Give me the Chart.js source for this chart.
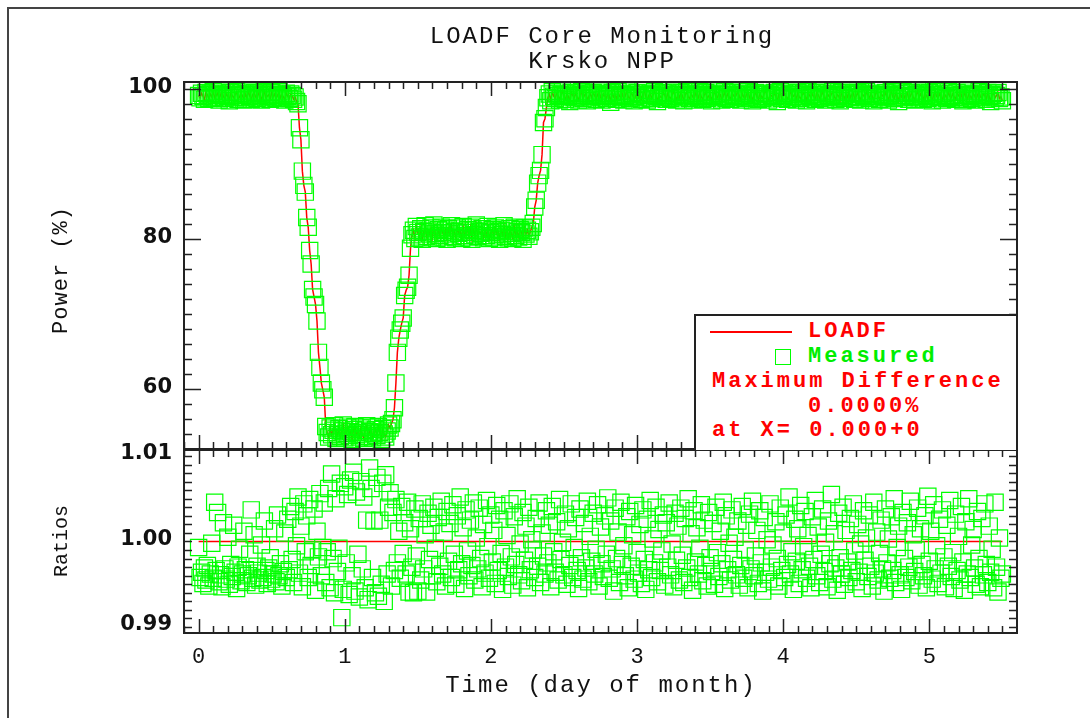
<!DOCTYPE html>
<html>
<head>
<meta charset="utf-8">
<script src="https://cdn.jsdelivr.net/npm/chart.js@4.4.1/dist/chart.umd.min.js"></script>
<style>
  body { margin: 0; width: 1090px; height: 718px; overflow: hidden; position: relative; background: #fff; }
  canvas { position: absolute; left: 0; top: 0; }
  .txt { position: absolute; white-space: pre; font-family: 'Liberation Mono', monospace; font-size: 24px; line-height: 24px; letter-spacing: 2px; color: #111; }
  .leg { font-size: 22px; line-height: 22px; letter-spacing: 3px; font-weight: bold; }
  .red { color: #ff0000; }
  .green { color: #00ee00; }
  .vert { transform: translate(-50%, -50%) rotate(-90deg); }
  #page-frame { position: absolute; left: 7px; top: 7px; right: -10px; bottom: -10px; border-left: 2px solid #444; border-top: 2px solid #444; }
  #legend-box { position: absolute; left: 694px; top: 314px; width: 320px; height: 134px; background: #fff; border-left: 2px solid #222; border-top: 2px solid #222; }
</style>
</head>
<body>
<div id="page-frame"></div>
<canvas id="power-chart" width="1090" height="718"></canvas>
<canvas id="ratio-chart" width="1090" height="718"></canvas>

<div class="txt" style="left:0; width:1204px; top:25px; text-align:center;">LOADF Core Monitoring</div>
<div class="txt" style="left:0; width:1204px; top:50px; text-align:center;">Krsko NPP</div>
<div class="txt vert" style="left:62px; top:270px; font-size:22px; letter-spacing:1px;">Power (%)</div>
<div class="txt vert" style="left:62px; top:541px; font-size:20px; letter-spacing:0px;">Ratios</div>
<div class="txt" style="left:0; width:1202px; top:674px; text-align:center;">Time (day of month)</div>

<div id="legend-box"></div>
<div style="position:absolute; left:710px; top:331px; width:82px; height:2px; background:#ff0000;"></div>
<div class="txt leg red" style="left:808px; top:321px;">LOADF</div>
<div style="position:absolute; left:775px; top:349px; width:14px; height:14px; border:1.5px solid #00ff00;"></div>
<div class="txt leg green" style="left:808px; top:346px;">Measured</div>
<div class="txt leg red" style="left:712px; top:371px;">Maximum Difference</div>
<div class="txt leg red" style="left:808px; top:396px;">0.0000%</div>
<div class="txt leg red" style="left:712px; top:420px;">at X= 0.000+0</div>

<script>
// monitoring samples, one every 0.01 day starting at day 0
const sampleStart = 0;
const sampleStep = 0.01;

// measured power (%), in time order
const fullPowerBefore = [
  99.2, 98.9, 99.5, 99.1, 98.7, 99.6, 99.3, 98.8, 99.4, 99.0,
  99.7, 98.9, 99.2, 99.5, 98.6, 99.3, 99.8, 99.0, 98.8, 99.4,
  99.1, 98.5, 99.6, 99.2, 98.9, 99.3, 99.7, 98.7, 99.0, 99.5,
  99.2, 98.6, 99.4, 98.9, 99.8, 99.1, 98.7, 99.3, 99.6, 99.0,
  98.8, 99.5, 99.2, 98.6, 99.4, 99.7, 98.9, 99.1, 99.3, 98.7,
  99.6, 99.0, 99.4, 98.8, 99.2, 99.7, 98.9, 99.3, 99.0, 98.6,
  99.5, 99.1, 98.8, 99.4, 99.2, 98.7, 99.0, 98.4
];
const rampDown = [
  98.1, 94.9, 93.3, 89.1, 87.2, 86.3, 82.9, 81.6, 78.5, 76.7,
  73.3, 72.3, 71.3, 69.1, 64.9, 62.9, 60.8, 59.9, 58.9
];
const lowPower = [
  55.0, 54.2, 53.6, 54.8, 53.9, 54.5, 55.1, 53.4, 54.0, 54.7,
  53.7, 54.4, 55.2, 53.5, 54.1, 54.9, 53.8, 54.3, 53.3, 54.6,
  55.0, 53.9, 54.2, 53.6, 54.8, 54.0, 53.4, 54.5, 55.1, 53.7,
  54.3, 54.9, 53.5, 54.1, 54.6, 53.8, 55.0, 54.2, 53.3, 54.7,
  54.0, 53.6, 54.4, 55.2, 54.8, 55.4, 55.9
];
const rampUpFirst = [57.5, 60.8, 64.9, 66.8, 67.9, 68.8, 69.5, 72.5, 73.2, 73.6, 75.2, 78.8];
const midPower = [
  80.6, 81.2, 80.1, 81.7, 80.9, 80.3, 81.4, 80.0, 81.0, 81.8,
  80.4, 81.1, 80.7, 81.5, 80.2, 81.9, 80.8, 80.1, 81.3, 80.5,
  81.6, 80.9, 80.3, 81.2, 80.0, 81.4, 80.7, 81.8, 80.4, 81.0,
  80.2, 81.5, 80.8, 81.1, 80.1, 81.7, 80.5, 80.9, 81.3, 80.3,
  81.6, 80.0, 81.2, 80.6, 81.9, 80.4, 81.0, 80.8, 81.4, 80.2,
  81.1, 80.5, 81.7, 80.1, 80.9, 81.3, 80.3, 81.5, 80.7, 81.0,
  80.0, 81.2, 80.6, 81.8, 80.4, 81.1, 80.2, 81.4, 80.8, 80.1,
  81.6, 80.5, 81.0, 80.3, 81.3, 80.9, 80.0, 81.5, 80.7, 81.2,
  80.4, 81.0, 81.6
];
const rampUpSecond = [82.1, 84.3, 85.2, 87.5, 88.5, 89.2, 91.3, 95.6, 96.1, 97.6];
const fullPowerAfter = [
  98.9, 99.4, 98.5, 99.7, 99.1, 98.8, 99.5, 99.2, 98.6, 99.3,
  99.8, 99.0, 98.7, 99.4, 99.1, 98.4, 99.6, 99.2, 98.9, 99.5,
  99.0, 98.6, 99.3, 99.7, 98.8, 99.2, 99.5, 98.5, 99.1, 99.4,
  98.9, 99.6, 99.2, 98.7, 99.3, 99.8, 99.0, 98.6, 99.4, 99.1,
  98.8, 99.5, 99.2, 98.3, 99.6, 99.0, 99.3, 98.7, 99.7, 99.1,
  98.9, 99.4, 98.6, 99.2, 99.8, 99.0, 98.8, 99.5, 99.3, 98.5,
  99.1, 99.6, 98.9, 99.3, 98.7, 99.4, 99.9, 99.0, 98.6, 99.2,
  99.5, 98.8, 99.3, 99.7, 99.1, 98.4, 99.4, 99.0, 98.9, 99.6,
  99.2, 98.7, 99.5, 99.0, 98.8, 99.3, 99.8, 99.1, 98.6, 99.4,
  98.9, 99.6, 99.2, 98.5, 99.3, 99.7, 99.0, 98.8, 99.4, 99.1,
  98.6, 99.5, 99.2, 98.9, 99.7, 99.0, 98.7, 99.3, 99.6, 98.8,
  99.1, 99.4, 98.5, 99.2, 99.8, 99.0, 98.9, 99.5, 99.3, 98.6,
  99.1, 99.7, 98.8, 99.4, 99.0, 98.7, 99.6, 99.2, 98.9, 99.3,
  99.8, 99.1, 98.6, 99.5, 99.0, 98.8, 99.4, 99.7, 98.9, 99.2,
  98.5, 99.3, 99.6, 99.0, 98.7, 99.4, 99.1, 98.8, 99.5, 99.9,
  99.0, 98.6, 99.3, 99.2, 98.9, 99.6, 99.1, 98.4, 99.4, 99.7,
  98.8, 99.2, 99.5, 99.0, 98.7, 99.3, 99.8, 98.9, 99.1, 99.4,
  98.6, 99.6, 99.0, 98.8, 99.3, 99.5, 99.1, 98.5, 99.7, 99.2,
  98.9, 99.4, 99.0, 98.7, 99.6, 99.3, 98.8, 99.1, 99.8, 99.0,
  98.6, 99.5, 99.2, 98.9, 99.4, 99.7, 99.0, 98.7, 99.3, 99.1,
  98.5, 99.6, 99.2, 98.8, 99.4, 99.0, 99.8, 98.9, 99.3, 99.5,
  98.7, 99.1, 99.6, 99.0, 98.6, 99.4, 99.2, 98.9, 99.7, 99.3,
  98.8, 99.5, 99.1, 98.5, 99.3, 99.9, 99.0, 98.7, 99.4, 99.2,
  98.9, 99.6, 99.1, 98.6, 99.3, 99.7, 99.0, 98.8, 99.5, 99.2,
  98.4, 99.4, 99.0, 99.7, 98.9, 99.2, 99.5, 98.7, 99.1, 99.6,
  99.0, 98.6, 99.3, 99.8, 98.9, 99.4, 99.1, 98.7, 99.5, 99.2,
  98.8, 99.6, 99.0, 98.5, 99.3, 99.7, 99.1, 98.9, 99.4, 99.0,
  98.6, 99.5, 99.2, 98.8, 99.7, 99.1, 98.9, 99.4, 99.0, 98.7,
  99.6, 99.2, 98.9, 99.3, 98.5, 99.8, 99.0, 98.7, 99.4, 99.1,
  98.8, 99.5, 99.2, 98.6, 99.3, 99.7, 99.0, 98.9, 99.4, 99.2,
  98.7, 99.6, 99.1, 98.4, 99.3, 99.5, 98.9, 99.2, 99.6, 98.8,
  99.0, 98.5
];

// measured / LOADF ratios, same samples
const ratiosFullPower = [
  0.9993, 0.9958, 0.9964, 0.9951, 0.9969, 0.9955, 0.9972, 0.9948, 0.9962, 0.9998,
  0.9957, 1.0046, 0.9966, 1.0034, 0.9953, 0.9961, 0.9947, 1.0022, 0.9968, 0.9956,
  1.0005, 0.9950, 0.9973, 0.9959, 1.0019, 0.9964, 0.9945, 0.9970, 0.9991, 0.9954,
  0.9962, 1.0012, 0.9967, 0.9952, 0.9960, 0.9985, 1.0037, 0.9957, 1.0008, 0.9949,
  0.9971, 0.9963, 0.9955, 0.9996, 0.9958, 1.0024, 0.9966, 0.9951, 0.9969, 0.9981,
  0.9956, 0.9962, 1.0015, 0.9953, 1.0031, 0.9960, 0.9974, 0.9948, 0.9965, 1.0010
];
const ratiosRampDown = [
  0.9958, 1.0026, 0.9967, 1.0041, 0.9979, 0.9952, 1.0035, 0.9995, 1.0052, 0.9963,
  1.0018, 0.9947, 1.0044, 0.9988, 1.0030, 0.9958, 1.0049, 0.9972, 0.9990, 1.0038,
  0.9943, 1.0012, 0.9982, 1.0056, 0.9960
];
const ratiosLowPower = [
  0.9993, 1.0045, 0.9952, 0.9988, 1.0062, 0.9946, 1.0079, 0.9980, 0.9940, 1.0050,
  0.9965, 0.9992, 1.0068, 0.9911, 0.9944, 1.0064, 0.9975, 1.0055, 0.9938, 1.0072,
  0.9960, 1.0081, 0.9942, 1.0058, 0.9985, 0.9935, 1.0070, 0.9968, 1.0052, 0.9946,
  1.0025, 0.9932, 1.0086, 1.0062, 0.9958, 1.0024, 0.9940, 1.0075, 0.9936, 1.0025,
  0.9950, 1.0068, 0.9930, 1.0078, 0.9962, 1.0040
];
const ratiosLater = [
  1.0057, 0.9948, 1.0034, 0.9966, 1.0049, 0.9975, 1.0012, 0.9957, 1.0041, 0.9986,
  1.0022, 0.9962, 1.0046, 0.9941, 1.0015, 0.9970, 0.9940, 1.0038, 0.9983, 0.9942,
  1.0027, 0.9955, 1.0044, 0.9968, 1.0008, 0.9941, 1.0033, 0.9979, 1.0019, 0.9960,
  1.0040, 0.9992, 0.9953, 1.0028, 0.9971, 1.0047, 0.9962, 1.0011, 0.9948, 1.0035,
  0.9977, 1.0021, 0.9958, 1.0043, 0.9985, 0.9950, 1.0030, 0.9967, 1.0052, 0.9974,
  1.0016, 0.9945, 1.0037, 0.9989, 0.9960, 1.0025, 0.9972, 1.0045, 0.9955, 1.0004,
  0.9968, 1.0039, 0.9980, 0.9947, 1.0020, 0.9963, 1.0048, 0.9994, 0.9957, 1.0031,
  0.9976, 1.0013, 0.9951, 1.0042, 0.9966, 1.0026, 0.9986, 0.9944, 1.0036, 0.9970,
  1.0007, 0.9959, 1.0044, 0.9982, 0.9949, 1.0029, 0.9973, 1.0050, 0.9961, 0.9997,
  0.9954, 1.0034, 0.9978, 1.0018, 0.9946, 1.0040, 0.9967, 1.0002, 0.9990, 0.9958,
  1.0027, 0.9971, 1.0045, 0.9952, 1.0010, 0.9983, 0.9962, 1.0036, 0.9975, 1.0019,
  0.9947, 1.0041, 0.9988, 0.9964, 1.0023, 0.9955, 1.0049, 0.9979, 0.9999, 0.9961,
  1.0032, 0.9950, 1.0015, 0.9972, 1.0044, 0.9958, 0.9993, 1.0028, 0.9966, 0.9945,
  1.0038, 0.9981, 0.9956, 1.0021, 0.9969, 1.0047, 0.9953, 1.0006, 0.9977, 1.0033,
  0.9962, 0.9991, 1.0043, 0.9948, 1.0017, 0.9974, 0.9959, 1.0030, 0.9985, 1.0051,
  0.9957, 1.0024, 0.9968, 0.9942, 1.0039, 0.9980, 1.0011, 0.9952, 1.0046, 0.9973,
  0.9995, 0.9960, 1.0029, 0.9946, 1.0035, 0.9971, 1.0008, 0.9956, 1.0042, 0.9987,
  0.9963, 1.0020, 0.9951, 1.0037, 0.9979, 0.9944, 1.0026, 0.9967, 1.0048, 0.9958,
  1.0003, 0.9975, 1.0040, 0.9953, 1.0014, 0.9966, 0.9989, 1.0031, 0.9949, 1.0022,
  0.9970, 1.0045, 0.9961, 0.9997, 0.9947, 1.0033, 0.9978, 1.0018, 0.9955, 1.0039,
  0.9984, 0.9952, 1.0027, 0.9969, 1.0050, 0.9958, 1.0009, 0.9943, 1.0036, 0.9976,
  1.0016, 0.9962, 0.9992, 1.0043, 0.9954, 1.0025, 0.9972, 0.9948, 1.0034, 0.9981,
  0.9965, 1.0021, 0.9950, 1.0040, 0.9987, 0.9959, 1.0012, 0.9974, 1.0046, 0.9945,
  1.0030, 0.9967, 0.9998, 0.9955, 1.0037, 0.9979, 1.0005, 0.9961, 1.0024, 0.9949,
  0.9972, 1.0041, 0.9957, 0.9990, 1.0019, 0.9946, 1.0032, 0.9968, 1.0047, 0.9960,
  0.9983, 1.0013, 0.9951, 1.0036, 0.9975, 0.9942, 1.0028, 0.9964, 1.0002, 0.9956,
  1.0044, 0.9970, 0.9996, 0.9953, 1.0023, 0.9980, 0.9948, 1.0039, 0.9966, 1.0010,
  0.9958, 1.0031, 0.9973, 1.0052, 0.9962, 0.9988, 0.9944, 1.0026, 0.9977, 1.0015,
  0.9951, 1.0042, 0.9967, 0.9994, 1.0035, 0.9957, 1.0007, 0.9971, 0.9946, 1.0029,
  0.9979, 1.0048, 0.9960, 1.0017, 0.9952, 0.9985, 1.0038, 0.9965, 0.9999, 0.9947,
  1.0024, 0.9974, 1.0055, 0.9956, 1.0009, 0.9969, 0.9943, 1.0033, 0.9981, 0.9962,
  1.0040, 0.9950, 1.0013, 0.9976, 0.9958, 1.0027, 0.9966, 1.0044, 0.9989, 0.9953,
  1.0020, 0.9964, 0.9997, 0.9945, 1.0036, 0.9978, 1.0004, 0.9959, 1.0031, 0.9971,
  0.9948, 1.0046, 0.9963, 1.0011, 0.9955, 0.9986, 1.0025, 0.9968, 0.9942, 1.0038,
  0.9975, 1.0003, 0.9957, 1.0029, 0.9966, 1.0050, 0.9952, 0.9993, 1.0018, 0.9961,
  0.9944, 1.0034, 0.9980, 0.9958, 1.0022, 0.9970, 1.0047, 0.9954, 1.0008, 0.9965,
  0.9990, 1.0039, 0.9949, 1.0015, 0.9973, 0.9960, 1.0030, 0.9946, 1.0053, 0.9977,
  1.0012, 0.9956, 1.0043, 0.9968, 0.9995, 0.9951, 1.0026, 0.9963, 1.0037, 0.9982,
  0.9947, 1.0019, 0.9971, 1.0048, 0.9959, 0.9987, 0.9945, 1.0032, 0.9966, 1.0006,
  0.9955, 1.0041, 0.9976, 0.9943, 1.0023, 0.9962, 1.0050, 0.9958, 0.9996, 1.0014,
  0.9969, 0.9950, 1.0035, 0.9980, 0.9947, 1.0027, 0.9961, 1.0044, 0.9973, 0.9952,
  1.0018, 0.9964, 0.9991, 0.9946, 1.0046, 0.9970, 0.9941, 1.0004, 0.9957, 0.9962
];

const loadfRatio = 1.0;

const powerTicks = [60, 80, 100];
const ratioTicks = [0.99, 1.00, 1.01];
const dayTicks = [0, 1, 2, 3, 4, 5];

const powerValues = [
  ...fullPowerBefore, ...rampDown, ...lowPower, ...rampUpFirst,
  ...midPower, ...rampUpSecond, ...fullPowerAfter
];
const ratioValues = [...ratiosFullPower, ...ratiosRampDown, ...ratiosLowPower, ...ratiosLater];

const sampleTime = (i) => sampleStart + i * sampleStep;
const powerPoints = powerValues.map((y, i) => ({ x: sampleTime(i), y }));
const ratioPoints = ratioValues.map((y, i) => ({ x: sampleTime(i), y }));
const ratioLine = [
  { x: sampleTime(0), y: loadfRatio },
  { x: sampleTime(ratioValues.length - 1), y: loadfRatio }
];

const GREEN = '#00ff00';
const RED = '#ff0000';
const AXIS = '#222';

// IDL style frame: box plus inward ticks on all four sides
const framePlugin = {
  id: 'frame',
  afterDatasetsDraw(chart, args, opts) {
    const { ctx, chartArea: a, scales: { x, y } } = chart;
    ctx.save();
    ctx.strokeStyle = AXIS;
    ctx.lineWidth = 1.5;
    ctx.beginPath();
    for (let k = -1; k <= 56; k++) {
      const px = Math.round(x.getPixelForValue(k / 10)) + 0.5;
      if (px < a.left || px > a.right) continue;
      const len = k % 10 === 0 ? 14 : 7;
      ctx.moveTo(px, a.top); ctx.lineTo(px, a.top + len);
      ctx.moveTo(px, a.bottom); ctx.lineTo(px, a.bottom - len);
    }
    for (let k = 0; k <= opts.count; k++) {
      const v = opts.from + k * opts.step;
      const py = Math.round(y.getPixelForValue(v)) + 0.5;
      if (py < a.top || py > a.bottom) continue;
      const major = opts.major.some((m) => Math.abs(m - v) < opts.step / 10);
      const len = major ? 17 : 8;
      ctx.moveTo(a.left, py); ctx.lineTo(a.left + len, py);
      ctx.moveTo(a.right, py); ctx.lineTo(a.right - len, py);
    }
    ctx.stroke();
    ctx.lineWidth = 2;
    ctx.strokeRect(a.left, a.top, a.width, a.height);
    ctx.restore();
  }
};

const tickFont = { family: 'DejaVu Sans', size: 21, weight: 'bold' };

function yAxis(min, max, ticks, fmt) {
  return {
    type: 'linear',
    min,
    max,
    afterBuildTicks: (s) => { s.ticks = ticks.map((v) => ({ value: v })); },
    afterFit: (s) => { s.width = 120; s.paddingTop = 0; s.paddingBottom = 0; },
    grid: { display: false },
    border: { display: false },
    ticks: { font: tickFont, color: '#111', padding: 4, labelOffset: -2, callback: fmt }
  };
}

function measuredSet(points) {
  return {
    label: 'Measured',
    data: points,
    pointStyle: 'rect',
    pointRadius: 11.5,
    borderColor: GREEN,
    borderWidth: 1.2,
    backgroundColor: 'rgba(0,0,0,0)',
    order: 1
  };
}

function loadfSet(points) {
  return {
    label: 'LOADF',
    data: points,
    showLine: true,
    pointRadius: 0,
    borderColor: RED,
    borderWidth: 1.5,
    order: 2
  };
}

new Chart(document.getElementById('power-chart'), {
  type: 'scatter',
  data: { datasets: [measuredSet(powerPoints), loadfSet(powerPoints)] },
  options: {
    responsive: false,
    animation: false,
    events: [],
    layout: { padding: { left: 64, right: 73, top: 82, bottom: 269 } },
    plugins: {
      legend: { display: false },
      tooltip: { enabled: false },
      frame: { from: 54, step: 2, count: 23, major: powerTicks }
    },
    scales: {
      x: { type: 'linear', min: -0.1, max: 5.6, display: false },
      y: yAxis(52, 101, powerTicks, (v) => String(v))
    }
  },
  plugins: [framePlugin]
});

new Chart(document.getElementById('ratio-chart'), {
  type: 'scatter',
  data: { datasets: [measuredSet(ratioPoints), loadfSet(ratioLine)] },
  options: {
    responsive: false,
    animation: false,
    events: [],
    layout: { padding: { left: 64, right: 73, top: 450, bottom: 45 } },
    plugins: {
      legend: { display: false },
      tooltip: { enabled: false },
      frame: { from: 0.990, step: 0.001, count: 20, major: [] }
    },
    scales: {
      x: {
        type: 'linear',
        min: -0.1,
        max: 5.6,
        afterBuildTicks: (s) => { s.ticks = dayTicks.map((v) => ({ value: v })); },
        afterFit: (s) => { s.height = 40; s.paddingLeft = 0; s.paddingRight = 0; },
        grid: { display: false },
        border: { display: false },
        ticks: {
          font: { family: 'Liberation Mono', size: 22 },
          color: '#111',
          padding: 3,
          maxRotation: 0,
          autoSkip: false,
          callback: (v) => String(v)
        }
      },
      y: yAxis(0.9893, 1.0107, ratioTicks, (v) => v.toFixed(2))
    }
  },
  plugins: [framePlugin]
});
</script>
</body>
</html>
